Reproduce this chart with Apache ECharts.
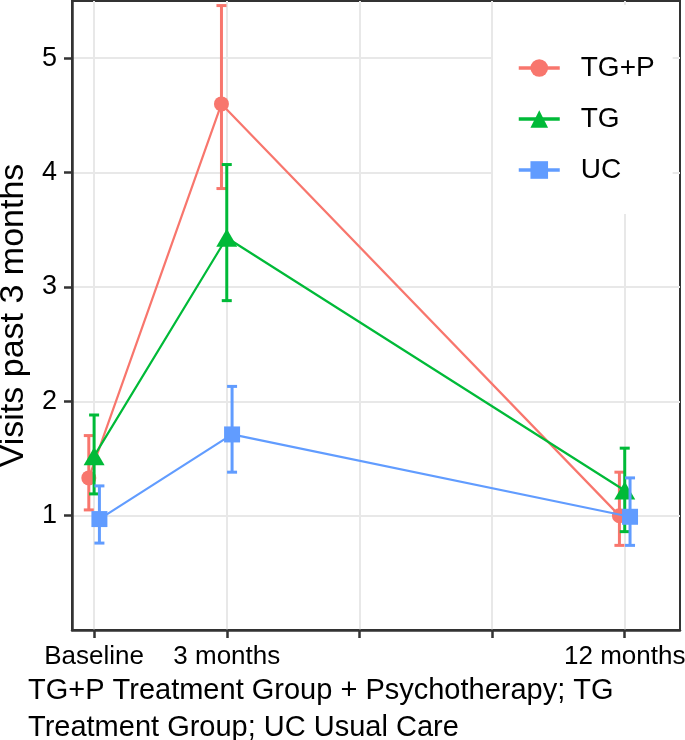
<!DOCTYPE html>
<html><head><meta charset="utf-8">
<script src="https://cdn.jsdelivr.net/npm/echarts@6/dist/echarts.min.js"></script>
<style>html,body{margin:0;padding:0;background:#fff}#c{width:685px;height:740px}</style>
</head><body><div id="c"></div>
<script>
// ---- data ----
const months = [0, 3, 12];
const tickMonths = [0, 3, 6, 9, 12];
const labelMonths = [0, 3, 12];
const xTickLabels = ['Baseline', '3 months', '12 months'];
const yTicks = [1, 2, 3, 4, 5];
const groups = ['TG+P', 'TG', 'UC'];
const meanTGP = [1.33, 4.60, 1.00];
const lowTGP  = [1.05, 3.86, 0.74];
const highTGP = [1.70, 5.46, 1.38];
const meanTG  = [1.52, 3.43, 1.22];
const lowTG   = [1.19, 2.88, 0.86];
const highTG  = [1.88, 4.07, 1.59];
const meanUC  = [0.97, 1.71, 0.99];
const lowUC   = [0.76, 1.38, 0.74];
const highUC  = [1.26, 2.13, 1.33];
const yTitle = 'Visits past 3 months';
const caption = 'TG+P Treatment Group + Psychotherapy; TG\nTreatment Group; UC Usual Care';

// ---- style ----
const FONT = '"Liberation Sans", Arial, Helvetica, sans-serif';
const colors = ['#F8766D', '#00BA38', '#619CFF'];
const symbols = ['circle', 'triangle', 'rect'];
const symbolSizes = [15, [21, 18], 16];
const dodge = [-0.12, 0, 0.12];
const means = [meanTGP, meanTG, meanUC];
const lows = [lowTGP, lowTG, lowUC];
const highs = [highTGP, highTG, highUC];

const series = [];
groups.forEach((g, i) => {
  const col = colors[i];
  series.push({
    name: g + ' error',
    type: 'custom',
    data: months.map((m, k) => [m + dodge[i], lows[i][k], highs[i][k]]),
    encode: { x: 0, y: [1, 2] },
    z: 2 + i * 3,
    silent: true,
    renderItem: function (params, api) {
      const x = api.value(0);
      const lo = api.coord([x, api.value(1)]);
      const hi = api.coord([x, api.value(2)]);
      const st = { stroke: col, lineWidth: 3 };
      const hw = 5;
      return {
        type: 'group',
        children: [
          { type: 'line', shape: { x1: lo[0], y1: lo[1], x2: hi[0], y2: hi[1] }, style: st },
          { type: 'line', shape: { x1: hi[0] - hw, y1: hi[1], x2: hi[0] + hw, y2: hi[1] }, style: st },
          { type: 'line', shape: { x1: lo[0] - hw, y1: lo[1], x2: lo[0] + hw, y2: lo[1] }, style: st }
        ]
      };
    }
  });
  series.push({
    name: g,
    type: 'line',
    data: months.map((m, k) => [m + dodge[i], means[i][k]]),
    symbol: symbols[i],
    symbolSize: symbolSizes[i],
    showAllSymbol: true,
    z: 3 + i * 3,
    lineStyle: { color: col, width: 2.2 },
    itemStyle: { color: col },
    emphasis: { disabled: true },
    animation: false
  });
});

const chart = echarts.init(document.getElementById('c'));
chart.setOption({
  animation: false,
  backgroundColor: '#fff',
  textStyle: { fontFamily: FONT },
  title: {
    text: caption,
    left: 23, top: 667,
    textStyle: { fontFamily: FONT, fontSize: 29, fontWeight: 'normal', color: '#000', lineHeight: 37 }
  },
  grid: {
    left: 72, right: 5, top: 1, bottom: 110,
    containLabel: false,
    outerBoundsMode: 'none',
    show: true, borderColor: '#333', borderWidth: 2, backgroundColor: '#fff'
  },
  legend: {
    data: groups,
    orient: 'vertical',
    left: 493, top: 5,
    backgroundColor: '#fff',
    padding: [47, 18, 28, 24],
    itemWidth: 41, itemHeight: 22, itemGap: 19,
    lineStyle: { width: 3.5 },
    textStyle: { fontFamily: FONT, fontSize: 28, color: '#000', lineHeight: 32, padding: [0, 0, 0, 16] }
  },
  xAxis: {
    type: 'value',
    min: -0.5, max: 13.25,
    axisLine: { show: true, onZero: false, lineStyle: { color: '#333', width: 2.5 } },
    axisTick: { show: true, length: 8, lineStyle: { color: '#333', width: 2.5 }, customValues: tickMonths },
    axisLabel: {
      customValues: labelMonths,
      formatter: v => { const k = labelMonths.indexOf(v); return k >= 0 ? xTickLabels[k] : ''; },
      fontFamily: FONT, fontSize: 26, color: '#000', margin: 14
    },
    splitLine: { show: true, lineStyle: { color: '#e8e8e8', width: 2 } }
  },
  yAxis: {
    type: 'value',
    min: 0, max: 5.5, interval: 1,
    name: yTitle,
    nameLocation: 'middle',
    nameGap: 38,
    nameRotate: 90,
    nameTextStyle: { fontFamily: FONT, fontSize: 34, color: '#000' },
    axisLine: { show: true, onZero: false, lineStyle: { color: '#333', width: 2.5 } },
    axisTick: { show: true, length: 8, lineStyle: { color: '#333', width: 2.5 }, customValues: yTicks },
    axisLabel: { customValues: yTicks, fontFamily: FONT, fontSize: 27, color: '#000', margin: 15 },
    splitLine: { show: true, lineStyle: { color: '#e8e8e8', width: 2 } }
  },
  series: series
});
</script>
</body></html>
